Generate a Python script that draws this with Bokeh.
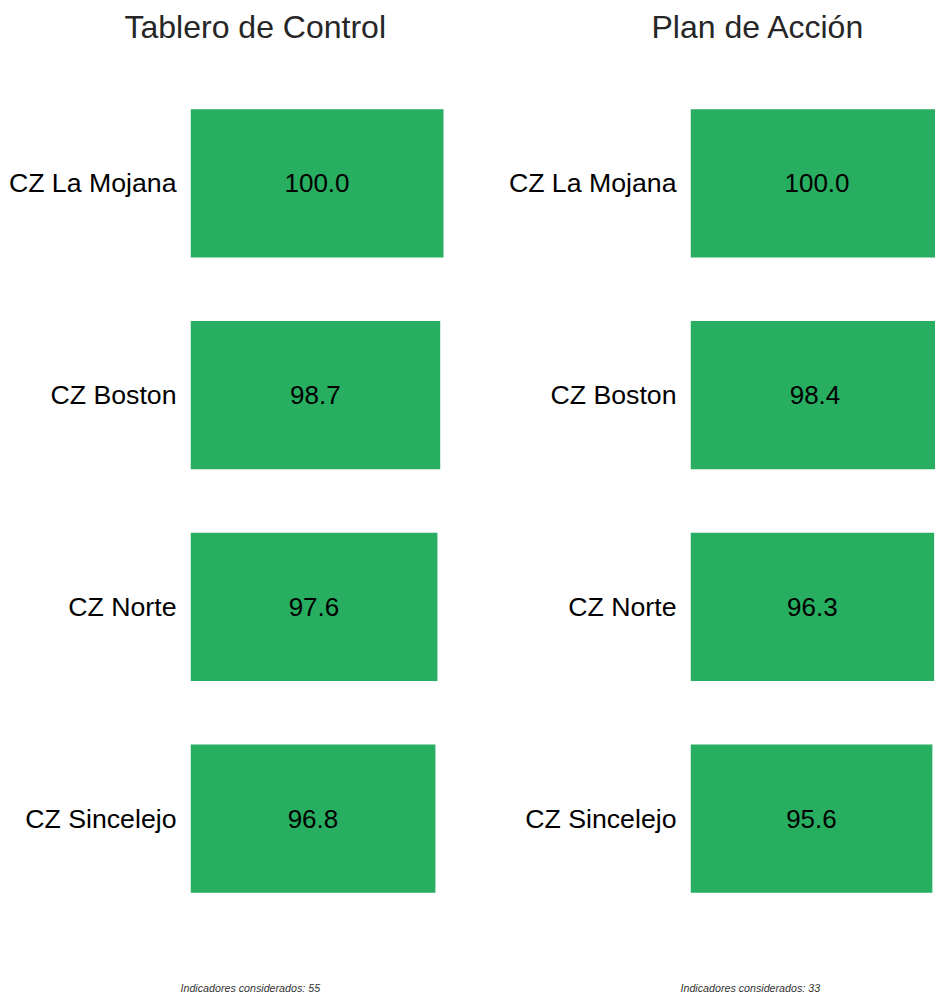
from bokeh.plotting import figure
from bokeh.models import Range1d, FactorRange, Title, ColumnDataSource
from bokeh.layouts import row
from bokeh.embed import file_html
from bokeh.resources import INLINE
from bokeh.core.properties import value

# ---- data ----
categories = ["CZ La Mojana", "CZ Boston", "CZ Norte", "CZ Sincelejo"]
tablero_values = [100.0, 98.7, 97.6, 96.8]
plan_values = [100.0, 98.4, 96.3, 95.6]
panel_titles = ["Tablero de Control", "Plan de Acción"]
indicator_counts = [55, 33]

BAR_COLOR = "#27ae60"
FONT = "Liberation Sans"
PX_PER_UNIT = 2.53
BORDER_L = 190
BORDER_T = 77
FRAME_H = 847
FIG_H = 993


def make_panel(title, vals, count, width, title_offset):
    frame_w = width - BORDER_L
    border_b = FIG_H - BORDER_T - FRAME_H
    p = figure(
        width=width, height=FIG_H,
        y_range=FactorRange(factors=list(reversed(categories))),
        x_range=Range1d(0, frame_w / PX_PER_UNIT),
        x_axis_location=None,
        toolbar_location=None, output_backend="svg",
        min_border_left=BORDER_L, min_border_right=0,
        min_border_top=BORDER_T, min_border_bottom=border_b,
        title=None,
    )
    src = ColumnDataSource(dict(
        cat=categories, val=vals,
        mid=[v / 2 for v in vals],
        txt=[f"{v:.1f}" for v in vals],
    ))
    p.hbar(y="cat", left=0, right="val", height=0.7, source=src,
           fill_color=BAR_COLOR, line_color=None)
    p.text(x="mid", y="cat", text="txt", source=src,
           text_align="center", text_baseline="middle",
           text_font=value(FONT), text_font_size="26px", text_color="black")

    t = Title(text=title, align="left", offset=title_offset,
              text_font=FONT, text_font_size="32px",
              text_font_style="normal", text_color="#262626",
              vertical_align="top", standoff=0,
              padding=dict(left=0, right=0, top=0, bottom=31))
    f = Title(text=f"Indicadores considerados: {count}", align="left",
              offset=-10, text_font=FONT, text_font_size="10.7px",
              text_font_style="italic", text_color="#333333",
              vertical_align="bottom", standoff=0,
              padding=dict(left=0, right=0, top=border_b - 14, bottom=0))
    p.add_layout(t, "above")
    p.add_layout(f, "below")

    ax = p.yaxis[0]
    ax.axis_line_color = None
    ax.major_tick_line_color = None
    ax.minor_tick_line_color = None
    ax.major_label_standoff = 8
    ax.major_label_text_font = FONT
    ax.major_label_text_font_size = "26.7px"
    ax.major_label_text_color = "black"
    p.grid.visible = False
    p.outline_line_color = None
    p.background_fill_color = "white"
    p.border_fill_color = "white"
    return p


p1 = make_panel(panel_titles[0], tablero_values, indicator_counts[0], 500, -66)
p2 = make_panel(panel_titles[1], plan_values, indicator_counts[1], 435, -39)

layout = row(p1, p2, spacing=0)
open("out.html", "w").write(file_html(layout, INLINE))
